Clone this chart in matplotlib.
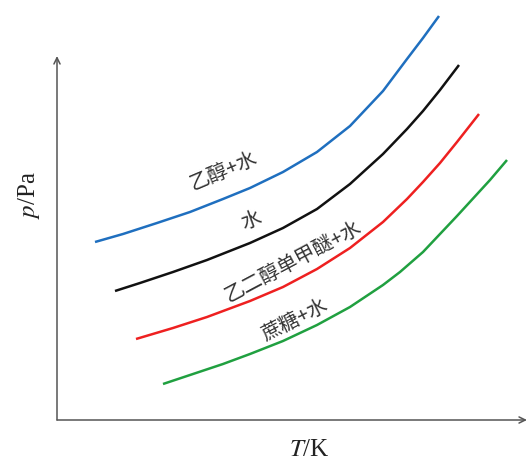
import matplotlib
matplotlib.use("Agg")
import matplotlib.pyplot as plt

# Data (arbitrary units; origin at the axes corner)
T_ethanol = [38, 66, 100, 133, 166, 193, 226, 260, 293, 326, 350, 366, 382]
p_ethanol = [178, 186, 197, 208, 221, 232, 248, 268, 294, 329, 361, 382, 404]

T_water = [58, 83, 116, 150, 193, 226, 260, 293, 326, 350, 366, 383, 402]
p_water = [129, 137, 148, 160, 177, 192, 211, 236, 266, 291, 309, 330, 355]

T_egme = [79, 116, 150, 193, 226, 260, 293, 326, 350, 366, 383, 400, 422]
p_egme = [81, 92, 103, 119, 133, 151, 172, 198, 221, 238, 257, 278, 306]

T_sucrose = [106, 133, 166, 193, 226, 260, 293, 326, 343, 366, 400, 433, 450]
p_sucrose = [36, 45, 56, 66, 79, 95, 113, 135, 148, 168, 204, 240, 260]

labels = ["乙醇+水", "水", "乙二醇单甲醚+水", "蔗糖+水"]
colors = ["#1f6fbf", "#111111", "#ee2020", "#20a040"]

plt.rcParams['font.family'] = ['Noto Sans CJK SC', 'DejaVu Sans']
plt.rcParams['mathtext.fontset'] = 'stix'

fig = plt.figure(figsize=(5.28, 4.57), dpi=100)
ax = fig.add_axes([0, 0, 1, 1])
ax.set_xlim(-57, 471)
ax.set_ylim(-37, 420)
ax.axis('off')

series = [(T_ethanol, p_ethanol), (T_water, p_water), (T_egme, p_egme), (T_sucrose, p_sucrose)]
for (T, p), c in zip(series, colors):
    ax.plot(T, p, color=c, lw=1.8, solid_capstyle='butt', solid_joinstyle='round')

# curve labels (x, y, rotation)
label_pos = [(166, 249, 23), (194, 200, 20), (236, 158, 28), (238, 100, 27)]
for lab, (x, y, rot) in zip(labels, label_pos):
    ax.text(x, y, lab, rotation=rot, ha='center', va='center', fontsize=14.5,
            color='#333333', rotation_mode='anchor')

# axes with arrows
arrow = dict(arrowstyle='->,head_length=0.45,head_width=0.22', color='#555555', lw=1.1,
             shrinkA=0, shrinkB=0)
ax.annotate('', xy=(0, 364), xytext=(0, 0), arrowprops=arrow)
ax.annotate('', xy=(470, 0), xytext=(0, 0), arrowprops=arrow)

ax.text(-28, 225, '$p$/Pa', rotation=90, ha='center', va='center', fontsize=18,
        family='Liberation Serif', color='#222222')
ax.text(252, -19, '$T$/K', ha='center', va='top', fontsize=18,
        family='Liberation Serif', color='#222222')

fig.savefig('out.png', dpi=100)
